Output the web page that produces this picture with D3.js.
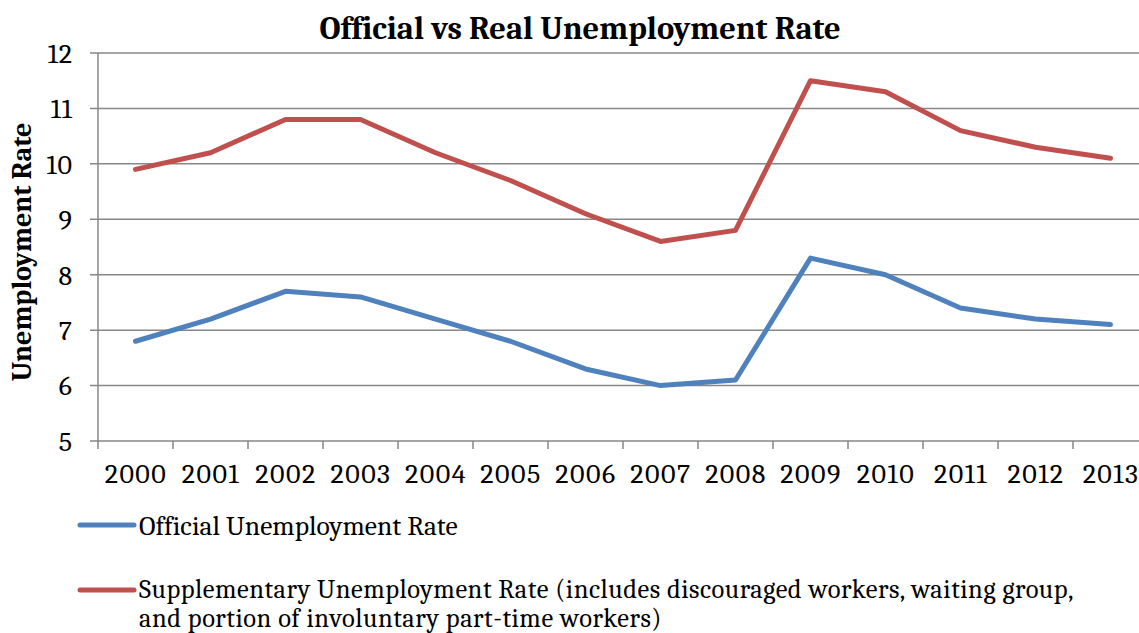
<!DOCTYPE html>
<html><head><meta charset="utf-8">
<script src="https://cdn.jsdelivr.net/npm/d3@7"></script>
<style>body{margin:0;background:#fff;} svg{display:block;}</style>
</head><body>
<svg id="c" width="1139" height="633"></svg>
<script>
const years = ["2000","2001","2002","2003","2004","2005","2006","2007","2008","2009","2010","2011","2012","2013"];
const official = [6.8,7.2,7.7,7.6,7.2,6.8,6.3,6.0,6.1,8.3,8.0,7.4,7.2,7.1];
const supplementary = [9.9,10.2,10.8,10.8,10.2,9.7,9.1,8.6,8.8,11.5,11.3,10.6,10.3,10.1];
const yTicks = [5,6,7,8,9,10,11,12];
const seriesNames = ["Official Unemployment Rate","Supplementary Unemployment Rate (includes discouraged workers, waiting group,","and portion of involuntary part-time workers)"];

const svg = d3.select("#c");
const font = "Cambria, 'Liberation Serif', 'DejaVu Serif', serif";
const L = 98, R = 1148, T = 53, B = 441;
const x = d3.scaleBand().domain(years).range([L, R]);
const y = d3.scaleLinear().domain([5, 12]).range([B, T]);
const grid = "#878787";

svg.append("g").selectAll("line").data(yTicks).join("line")
  .attr("x1", L - 8).attr("x2", R).attr("y1", d => y(d)).attr("y2", d => y(d))
  .attr("stroke", grid).attr("stroke-width", 1.5);
svg.append("line").attr("x1", L).attr("x2", L).attr("y1", T).attr("y2", B + 8)
  .attr("stroke", grid).attr("stroke-width", 1.5);
svg.append("g").selectAll("line").data(years.slice(1)).join("line")
  .attr("x1", d => x(d)).attr("x2", d => x(d)).attr("y1", B).attr("y2", B + 8)
  .attr("stroke", grid).attr("stroke-width", 1.5);
svg.append("g").selectAll("text").data(yTicks).join("text")
  .attr("x", 73).attr("y", d => y(d)).attr("dy", "0.35em").attr("text-anchor", "end")
  .attr("font-family", font).attr("font-size", 28).attr("letter-spacing", 1).text(d => d);
svg.append("g").selectAll("text").data(years).join("text")
  .attr("x", d => x(d) + x.bandwidth() / 2 + 0.5).attr("y", 483).attr("text-anchor", "middle")
  .attr("font-family", font).attr("font-size", 28).attr("letter-spacing", 1.5).text(d => d);

svg.append("text").attr("x", 580).attr("y", 39).attr("text-anchor", "middle")
  .attr("font-family", font).attr("font-weight", "bold").attr("font-size", 32.5)
  .text("Official vs Real Unemployment Rate");
svg.append("text").attr("transform", "translate(31,252) rotate(-90)").attr("text-anchor", "middle")
  .attr("font-family", font).attr("font-weight", "bold").attr("font-size", 28)
  .text("Unemployment Rate");

const line = d3.line().x((d, i) => x(years[i]) + x.bandwidth() / 2).y(d => y(d));
svg.append("path").datum(supplementary).attr("d", line).attr("fill", "none")
  .attr("stroke", "#C0504D").attr("stroke-width", 5).attr("stroke-linecap", "round").attr("stroke-linejoin", "round");
svg.append("path").datum(official).attr("d", line).attr("fill", "none")
  .attr("stroke", "#4F81BD").attr("stroke-width", 5).attr("stroke-linecap", "round").attr("stroke-linejoin", "round");

const lg = svg.append("g");
lg.append("line").attr("x1", 80).attr("x2", 134).attr("y1", 525).attr("y2", 525)
  .attr("stroke", "#4F81BD").attr("stroke-width", 5).attr("stroke-linecap", "round");
lg.append("text").attr("x", 139).attr("y", 535).attr("font-family", font).attr("font-size", 27.5).text(seriesNames[0]);
lg.append("line").attr("x1", 80).attr("x2", 134).attr("y1", 590).attr("y2", 590)
  .attr("stroke", "#C0504D").attr("stroke-width", 5).attr("stroke-linecap", "round");
lg.append("text").attr("x", 139).attr("y", 598).attr("font-family", font).attr("font-size", 26.5).attr("letter-spacing", 0.5).text(seriesNames[1]);
lg.append("text").attr("x", 139).attr("y", 627).attr("font-family", font).attr("font-size", 26.5).attr("letter-spacing", 0.5).text(seriesNames[2]);
</script>
</body></html>
